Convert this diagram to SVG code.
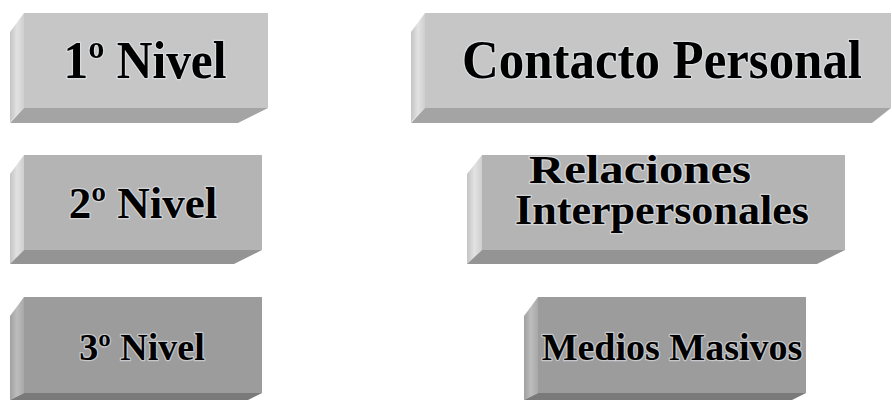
<svg xmlns="http://www.w3.org/2000/svg" width="892" height="400" viewBox="0 0 892 400">
<defs>
<linearGradient id="lf" x1="0" y1="0" x2="1" y2="0"><stop offset="0" stop-color="#c4c4c4"/><stop offset="0.5" stop-color="#e2e2e2"/><stop offset="1" stop-color="#cfcfcf"/></linearGradient>
<linearGradient id="lf3" x1="0" y1="0" x2="1" y2="0"><stop offset="0" stop-color="#a0a0a0"/><stop offset="0.5" stop-color="#bdbdbd"/><stop offset="1" stop-color="#a8a8a8"/></linearGradient>
</defs>
<style>
.t{font-family:"Liberation Serif","Times New Roman",serif;font-weight:bold;fill:#000;text-anchor:middle;stroke:#eef3f8;stroke-width:2.5;stroke-opacity:0.5;paint-order:stroke;stroke-linejoin:round}
.f1{fill:#c6c6c6}.b1{fill:#a4a4a4}
.f2{fill:#b4b4b4}.b2{fill:#949494}
.f3{fill:#9c9c9c}.b3{fill:#7a7a7a}
</style>
<rect width="892" height="400" fill="#ffffff"/>
<g id="n1">
<polygon points="24,13 10,32 10,122 24,108" fill="url(#lf)"/>
<polygon class="b1" points="24,108 268,108 238,123 10,123"/>
<rect class="f1" x="24" y="13" width="244" height="95"/>
<text class="t" x="145" y="78" font-size="52" textLength="163" lengthAdjust="spacingAndGlyphs">1º Nivel</text>
</g>
<g id="n2">
<polygon points="425,13 411,32 411,122 425,108" fill="url(#lf)"/>
<polygon class="b1" points="425,108 891,108 872,123 411,123"/>
<rect class="f1" x="425" y="13" width="466" height="95"/>
<text class="t" x="662" y="78" font-size="54" textLength="400" lengthAdjust="spacingAndGlyphs">Contacto Personal</text>
</g>
<g id="n3">
<polygon points="24,155 10,174 10,264 24,250" fill="url(#lf)"/>
<polygon class="b2" points="24,250 262,250 234,264 10,264"/>
<rect class="f2" x="24" y="155" width="238" height="95"/>
<text class="t" x="143" y="218" font-size="45">2º Nivel</text>
</g>
<g id="n4">
<polygon points="482,155 467,174 467,264 482,250" fill="url(#lf)"/>
<polygon class="b2" points="482,250 845,250 817,264 467,264"/>
<rect class="f2" x="482" y="155" width="363" height="95"/>
<text class="t" x="640" y="183" font-size="41" textLength="222" lengthAdjust="spacingAndGlyphs">Relaciones</text>
<text class="t" x="662" y="224" font-size="42" textLength="294" lengthAdjust="spacingAndGlyphs">Interpersonales</text>
</g>
<g id="n5">
<polygon points="24,297 10,316 10,400 24,393" fill="url(#lf3)"/>
<polygon class="b3" points="24,393 262,393 248,400 10,400"/>
<rect class="f3" x="24" y="297" width="238" height="96"/>
<text class="t" x="142" y="360" font-size="38">3º Nivel</text>
</g>
<g id="n6">
<polygon points="538,297 524,316 524,400 538,393" fill="url(#lf3)"/>
<polygon class="b3" points="538,393 806,393 792,400 524,400"/>
<rect class="f3" x="538" y="297" width="268" height="96"/>
<text class="t" x="672" y="360" font-size="38">Medios Masivos</text>
</g>
<g id="connectors"/>
</svg>
